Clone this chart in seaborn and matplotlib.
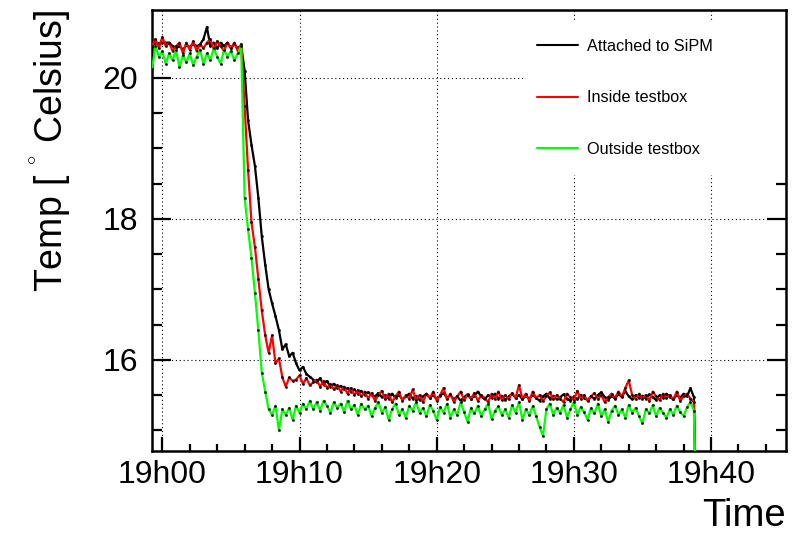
"""
Temperature log of the SiPM test setup: sensor on the SiPM, inside and
outside the test box, 19h00 - 19h40.
"""

import numpy as np
import pandas as pd
import matplotlib
matplotlib.use("Agg")
import matplotlib.pyplot as plt
import matplotlib.ticker as mticker
from matplotlib.patches import Rectangle
import seaborn as sns

# ─────────────────────────────────────────────
# Data (minutes after 19h00, one reading every 15 s)
# ─────────────────────────────────────────────

T_START, T_STEP = -0.75, 0.25

attached_sipm = [
    # plateau
    20.45, 20.50, 20.48, 20.50, 20.50, 20.50, 20.45, 20.42, 20.45, 20.40,
    20.46, 20.44, 20.48, 20.45, 20.47, 20.55, 20.72, 20.45, 20.50, 20.42,
    20.50, 20.45, 20.50, 20.42, 20.48, 20.42, 20.46,
    # cool down
    20.10, 19.40, 19.05, 18.75, 18.30, 17.75, 17.35, 17.00, 16.80, 16.62,
    16.42, 16.15, 16.22, 16.05, 16.10, 15.95, 15.85, 15.90, 15.80, 15.76,
    # steady
    15.72, 15.68, 15.74, 15.65, 15.70, 15.62, 15.66, 15.60,
    15.63, 15.58, 15.60, 15.55, 15.58, 15.52, 15.56, 15.50,
    15.54, 15.50, 15.48, 15.53, 15.47, 15.50, 15.45, 15.52,
    15.46, 15.50, 15.44, 15.48, 15.52, 15.45, 15.49, 15.43,
    15.48, 15.52, 15.46, 15.50, 15.44, 15.49, 15.53, 15.46,
    15.50, 15.44, 15.48, 15.42, 15.47, 15.51, 15.45, 15.49,
    15.55, 15.48, 15.44, 15.50, 15.46, 15.52, 15.45, 15.49,
    15.43, 15.48, 15.52, 15.46, 15.50, 15.44, 15.49, 15.45,
    15.50, 15.46, 15.42, 15.48, 15.52, 15.45, 15.49, 15.44,
    15.47, 15.51, 15.45, 15.42, 15.48, 15.44, 15.50, 15.46,
    15.43, 15.48, 15.45, 15.50, 15.54, 15.47, 15.43, 15.49,
    15.45, 15.52, 15.47, 15.56, 15.48, 15.44, 15.50, 15.46,
    15.49, 15.45, 15.51, 15.47, 15.43, 15.50, 15.46, 15.52,
    15.47, 15.44, 15.50, 15.46, 15.52, 15.48, 15.60, 15.47,
    # sensor unplugged
    13.00,
]

inside_testbox = [
    20.45, 20.55, 20.42, 20.58, 20.45, 20.50, 20.38, 20.45, 20.50, 20.35,
    20.50, 20.40, 20.52, 20.38, 20.48, 20.42, 20.50, 20.55, 20.40, 20.52,
    20.45, 20.38, 20.50, 20.42, 20.50, 20.38, 20.48,
    19.60, 18.70, 17.95, 17.60, 17.15, 16.70, 16.35, 16.10, 16.35, 15.95,
    16.02, 15.75, 15.62, 15.75, 15.70, 15.72, 15.78, 15.66, 15.74, 15.64,
    15.68, 15.72, 15.62, 15.70, 15.60, 15.66, 15.58, 15.64,
    15.55, 15.62, 15.52, 15.60, 15.50, 15.57, 15.48, 15.55,
    15.45, 15.53, 15.42, 15.50, 15.56, 15.44, 15.52, 15.40,
    15.48, 15.55, 15.42, 15.50, 15.45, 15.58, 15.43, 15.50,
    15.40, 15.52, 15.46, 15.55, 15.42, 15.50, 15.60, 15.44,
    15.52, 15.40, 15.48, 15.55, 15.43, 15.50, 15.45, 15.53,
    15.42, 15.50, 15.46, 15.40, 15.52, 15.45, 15.55, 15.43,
    15.50, 15.44, 15.53, 15.46, 15.64, 15.45, 15.52, 15.42,
    15.55, 15.46, 15.50, 15.42, 15.48, 15.54, 15.44, 15.50,
    15.45, 15.40, 15.52, 15.47, 15.43, 15.56, 15.45, 15.50,
    15.42, 15.48, 15.53, 15.44, 15.50, 15.40, 15.47, 15.52,
    15.46, 15.55, 15.48, 15.60, 15.71, 15.50, 15.44, 15.52,
    15.45, 15.50, 15.42, 15.55, 15.48, 15.43, 15.52, 15.46,
    15.50, 15.44, 15.55, 15.42, 15.48, 15.52, 15.45, 15.40,
    13.00,
]

outside_testbox = [
    20.12, 20.45, 20.30, 20.38, 20.20, 20.35, 20.25, 20.40, 20.15, 20.32,
    20.22, 20.35, 20.18, 20.30, 20.40, 20.20, 20.35, 20.25, 20.42, 20.30,
    20.20, 20.40, 20.30, 20.38, 20.25, 20.35, 20.45,
    18.30, 17.85, 17.45, 16.95, 16.42, 15.82, 15.55, 15.30, 15.22, 15.35,
    15.00, 15.30, 15.22, 15.32, 15.15, 15.35, 15.25, 15.38, 15.30, 15.42,
    15.30, 15.40, 15.28, 15.42, 15.35, 15.25, 15.40, 15.32,
    15.38, 15.26, 15.42, 15.30, 15.36, 15.22, 15.38, 15.30,
    15.35, 15.20, 15.32, 15.40, 15.25, 15.33, 15.15, 15.30,
    15.38, 15.22, 15.30, 15.18, 15.35, 15.28, 15.40, 15.25,
    15.32, 15.20, 15.36, 15.28, 15.15, 15.33, 15.25, 15.38,
    15.18, 15.30, 15.22, 15.40, 15.26, 15.12, 15.32, 15.24,
    15.35, 15.20, 15.30, 15.38, 15.16, 15.28, 15.34, 15.22,
    15.30, 15.18, 15.36, 15.25, 15.40, 15.15, 15.30, 15.22,
    15.35, 15.20, 15.05, 14.92, 15.30, 15.38, 15.22, 15.32,
    15.25, 15.36, 15.18, 15.30, 15.40, 15.22, 15.33, 15.26,
    15.15, 15.32, 15.24, 15.38, 15.20, 15.30, 15.12, 15.28,
    15.35, 15.22, 15.30, 15.18, 15.36, 15.25, 15.32, 15.20,
    15.10, 15.30, 15.24, 15.36, 15.20, 15.32, 15.25, 15.18,
    15.30, 15.22, 15.35, 15.26, 15.20, 15.33, 15.40, 15.28,
    13.00,
]

series_labels = ["Attached to SiPM", "Inside testbox", "Outside testbox"]
series_colors = ["#000000", "#ff0000", "#00ff00"]

minutes = T_START + T_STEP * np.arange(len(attached_sipm))

df = pd.DataFrame({
    "minutes": np.tile(minutes, 3),
    "temp": attached_sipm + inside_testbox + outside_testbox,
    "sensor": np.repeat(series_labels, len(minutes)),
})

# ─────────────────────────────────────────────
# Plot
# ─────────────────────────────────────────────

sns.set_theme(style="white")
plt.rcParams["font.family"] = ["Liberation Sans", "DejaVu Sans"]
plt.rcParams["mathtext.fontset"] = "custom"
plt.rcParams["mathtext.rm"] = "Liberation Sans"
plt.rcParams["text.color"] = "black"
plt.rcParams["axes.labelcolor"] = "black"

fig = plt.figure(figsize=(7.96, 5.36), dpi=100)
ax = fig.add_axes([0.191, 0.159, 0.796, 0.822])

for label, color in zip(series_labels, series_colors):
    sub = df[df["sensor"] == label]
    sns.lineplot(data=sub, x="minutes", y="temp", color=color, lw=1.6,
                 marker="s", markersize=1.0, markerfacecolor="black",
                 markeredgecolor="black", estimator=None, sort=False,
                 label=label, ax=ax, zorder=3)

ax.set_xlim(-0.75, 45.44)
ax.set_ylim(14.71, 20.96)

ax.xaxis.set_major_locator(mticker.MultipleLocator(10))
ax.xaxis.set_minor_locator(mticker.MultipleLocator(2))
ax.xaxis.set_major_formatter(mticker.FuncFormatter(lambda v, p: f"19h{int(round(v)):02d}"))
ax.yaxis.set_major_locator(mticker.MultipleLocator(2))
ax.yaxis.set_minor_locator(mticker.MultipleLocator(0.5))
ax.yaxis.set_major_formatter(mticker.FuncFormatter(lambda v, p: f"{int(round(v))}"))

ax.tick_params(axis="both", which="both", direction="in", colors="black",
               labelsize=23, width=1.6)
ax.tick_params(axis="x", which="major", length=10, pad=7, bottom=True)
ax.tick_params(axis="x", which="minor", length=5, bottom=True)
ax.tick_params(axis="y", which="major", length=14, pad=10, left=True, right=True)
ax.tick_params(axis="y", which="minor", length=7, left=True, right=True)

for sp in ax.spines.values():
    sp.set_linewidth(1.8)
    sp.set_color("black")

ax.set_axisbelow(True)
ax.grid(True, which="major", color="black", lw=0.8, ls=(0, (1, 2.5)))

# white patch behind the legend (hides the grid there)
ax.add_patch(Rectangle((0.59, 0.626), 0.41, 0.352, transform=ax.transAxes,
                       facecolor="white", edgecolor="none", zorder=1))

leg = ax.legend(loc="upper left", bbox_to_anchor=(0.6075, 0.935), frameon=False,
                fontsize=11.7, handlelength=2.5, handletextpad=0.6,
                labelspacing=2.25, borderpad=0, borderaxespad=0)
for h in leg.get_lines():
    h.set_marker("")
    h.set_linewidth(1.5)

ax.set_xlabel("Time", fontsize=27.5, loc="right", color="black")
ax.xaxis.set_label_coords(1.0, -0.108)
ax.set_ylabel(r"Temp [ ${}^{{}^{\circ}}$ Celsius]", fontsize=27, loc="top",
              color="black")
ax.yaxis.set_label_coords(-0.125, 1.0)

fig.savefig("out.png", dpi=100)
